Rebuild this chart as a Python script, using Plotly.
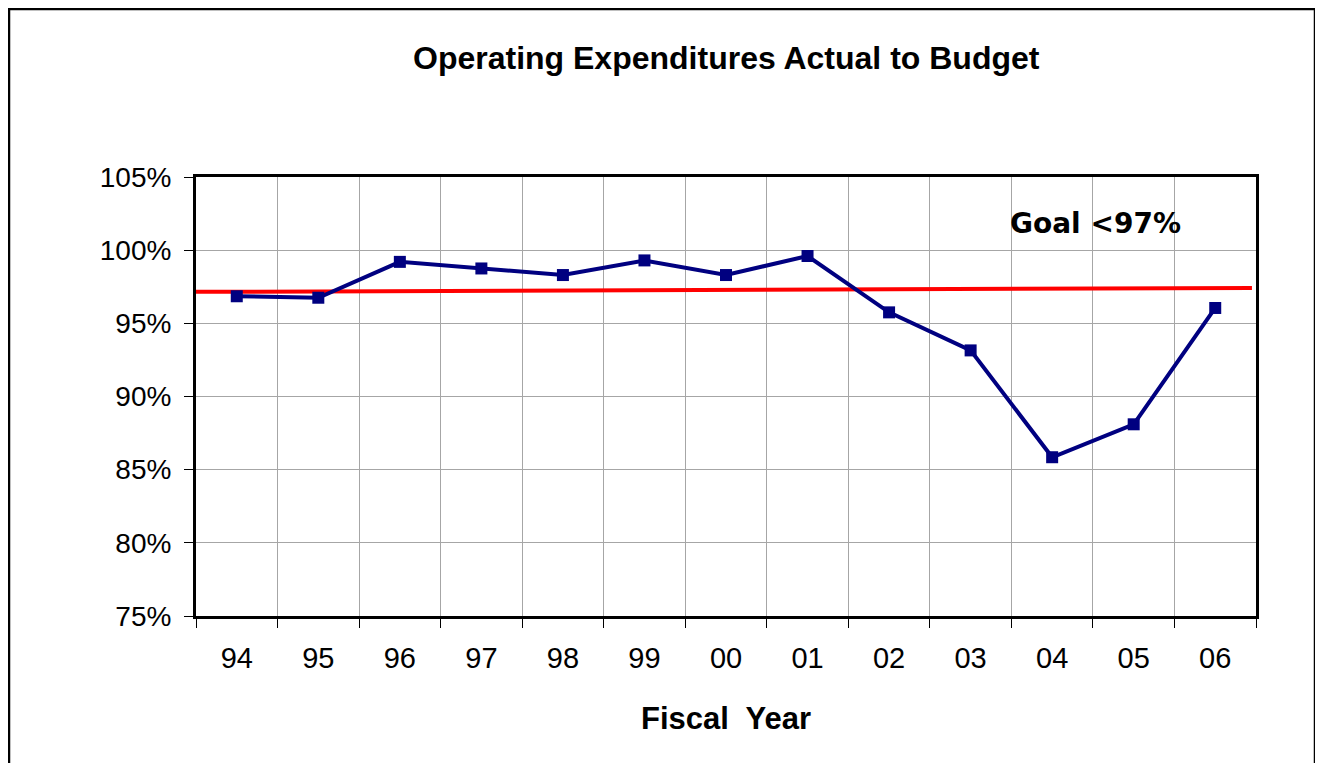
import plotly.graph_objects as go

# fiscal years and actual-to-budget ratio (%)
years = ["94", "95", "96", "97", "98", "99", "00", "01", "02", "03", "04", "05", "06"]
pct_actual = [96.85, 96.75, 99.2, 98.75, 98.3, 99.3, 98.3, 99.6, 95.75, 93.15, 85.85, 88.1, 96.05]

# goal line (drawn slightly sloped, as in the original sheet)
goal_x = [-0.5, 12.45]
goal_y = [97.15, 97.42]

y_ticks = [75, 80, 85, 90, 95, 100, 105]
y_labels = ["75%", "80%", "85%", "90%", "95%", "100%", "105%"]

NAVY = "#000080"
FONT = "Liberation Sans, Arial, sans-serif"

# plot area in pixels
L, T, PW, PH = 188, 169, 1060, 439
W, H = 1323, 763


def px_x(p):
    # figure pixel -> paper x
    return (p - L) / PW


def px_y(p):
    # figure pixel (from top) -> paper y
    return 1 + (T - p) / PH


xs = list(range(len(years)))

fig = go.Figure()

fig.add_trace(go.Scatter(
    x=goal_x, y=goal_y,
    mode="lines",
    line=dict(color="#ff0000", width=4),
    hoverinfo="skip",
    showlegend=False,
))

fig.add_trace(go.Scatter(
    x=xs, y=pct_actual,
    mode="lines+markers",
    line=dict(color=NAVY, width=4),
    marker=dict(symbol="square", size=12, color=NAVY),
    showlegend=False,
))

fig.add_annotation(
    x=10.53, y=101.8, xref="x", yref="y",
    text="<b>Goal <97%</b>", showarrow=False,
    xanchor="center", yanchor="middle",
    font=dict(family="DejaVu Sans, Verdana, sans-serif", size=28, color="black"),
)

# chart title and axis title
fig.add_annotation(
    x=0.5, y=px_y(50), xref="paper", yref="paper",
    text="<b>Operating Expenditures Actual to Budget</b>", showarrow=False,
    xanchor="center", yanchor="middle",
    font=dict(family=FONT, size=32, color="black"),
)
fig.add_annotation(
    x=0.5, y=px_y(710), xref="paper", yref="paper",
    text="<b>Fiscal  Year</b>", showarrow=False,
    xanchor="center", yanchor="middle",
    font=dict(family=FONT, size=31, color="black"),
)

# outer chart frame
fig.add_shape(
    type="rect", xref="paper", yref="paper",
    x0=px_x(1), x1=px_x(1307),
    y0=px_y(H + 20), y1=px_y(1),
    line=dict(color="black", width=2.5),
)

fig.update_layout(
    width=W, height=H,
    margin=dict(l=L, r=W - L - PW, t=T, b=H - T - PH),
    paper_bgcolor="white",
    plot_bgcolor="white",
    font=dict(family=FONT, color="black"),
    xaxis=dict(
        range=[-0.5, 12.5],
        tickmode="array", tickvals=xs, ticktext=years,
        ticks="", showgrid=False,
        tickfont=dict(size=29, color="black"),
        ticklabelstandoff=14,
        showline=True, linecolor="black", linewidth=3, mirror=True,
        zeroline=False,
        minor=dict(tick0=-0.5, dtick=1, ticks="outside", ticklen=9,
                   tickcolor="black", tickwidth=1,
                   showgrid=True, gridcolor="#a6a6a6", gridwidth=1),
    ),
    yaxis=dict(
        range=[75, 105],
        tickmode="array", tickvals=y_ticks, ticktext=y_labels,
        ticks="outside", ticklen=9, tickcolor="black", tickwidth=1,
        tickfont=dict(size=28, color="black"),
        ticklabelstandoff=7,
        showgrid=True, gridcolor="#a6a6a6", gridwidth=1,
        showline=True, linecolor="black", linewidth=3, mirror=True,
        zeroline=False,
    ),
)

fig.write_html("out.html")
